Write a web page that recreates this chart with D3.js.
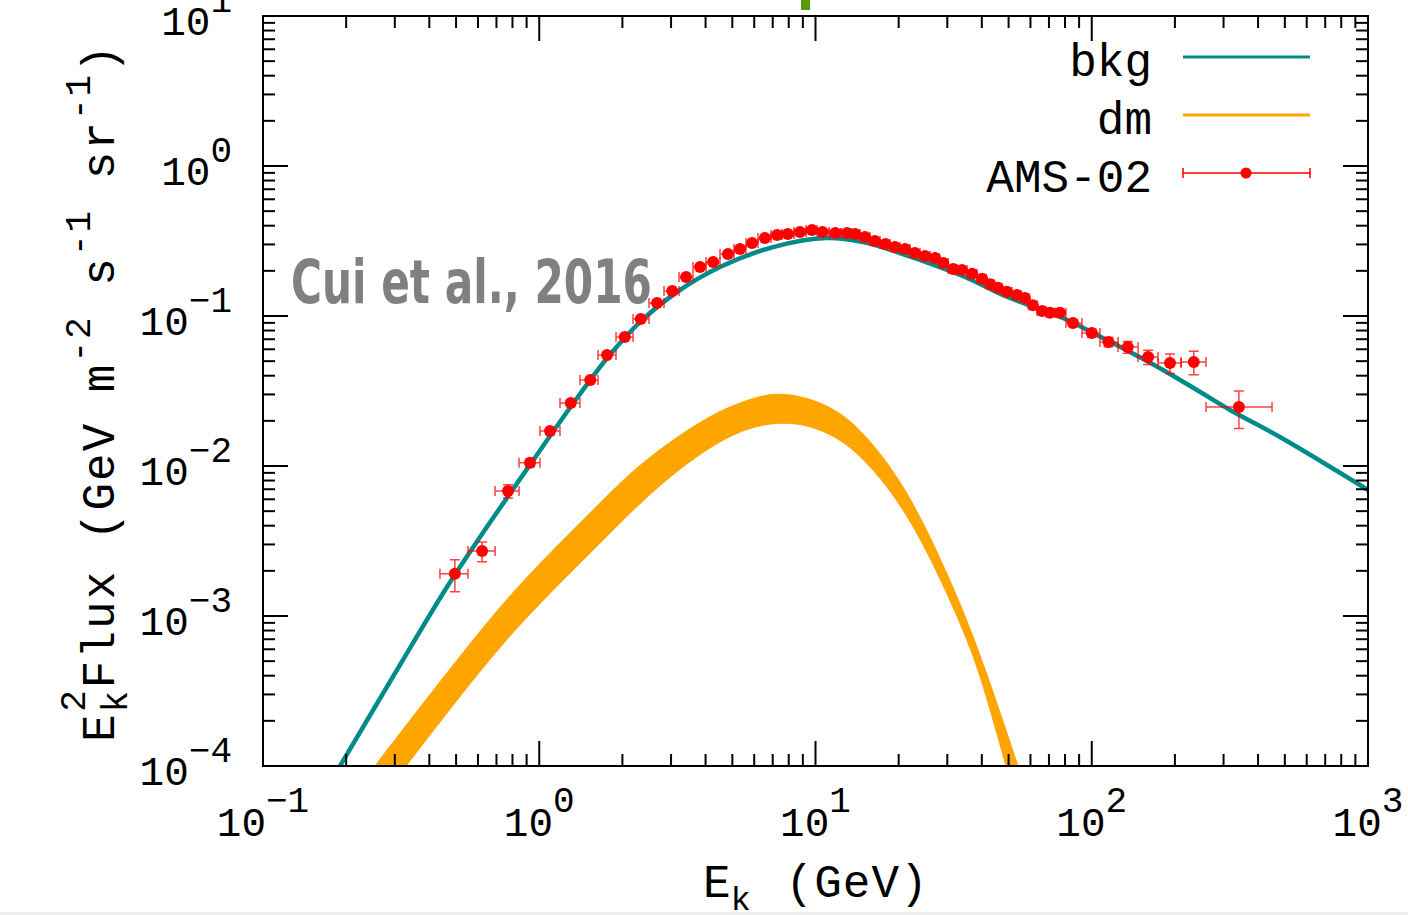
<!DOCTYPE html>
<html>
<head>
<meta charset="utf-8">
<script src="https://cdn.jsdelivr.net/npm/d3@7"></script>
<style>
  body { margin: 0; background: #fff; }
  svg { display: block; }
</style>
</head>
<body>
<div id="chart-area"></div>
<script>

// SVG size
var width = 1408,
	height = 915;

// AMS-02 positron points (E in GeV, E^2 flux)
var amsE = [0.495, 0.621, 0.771, 0.926, 1.094, 1.30, 1.53, 1.76, 2.04, 2.33,
	2.67, 3.03, 3.40, 3.82, 4.26, 4.82, 5.33, 5.89, 6.56, 7.26,
	7.94, 8.79, 9.71, 10.6, 11.8, 13.0, 13.9, 15.1, 16.4, 17.9,
	19.4, 21.1, 22.9, 24.9, 27.1, 29.0, 31.5, 33.9, 36.9, 40.1,
	42.9, 45.8, 49.3, 53.6, 57.3, 61.2, 66.1, 70.6, 76.7, 85.5,
	100, 115, 135, 160, 192, 234, 341];
var amsFlux = [1.91e-3, 2.71e-3, 6.81e-3, 1.05e-2, 1.71e-2, 2.63e-2, 3.74e-2, 5.50e-2, 7.24e-2, 9.55e-2,
	0.122, 0.147, 0.182, 0.212, 0.229, 0.259, 0.280, 0.307, 0.331, 0.347,
	0.352, 0.363, 0.374, 0.363, 0.357, 0.357, 0.352, 0.336, 0.316, 0.302,
	0.288, 0.280, 0.263, 0.251, 0.244, 0.226, 0.206, 0.203, 0.191, 0.177,
	0.163, 0.154, 0.145, 0.138, 0.132, 0.118, 0.108, 0.105, 0.105, 0.0898,
	0.0770, 0.0671, 0.0621, 0.0533, 0.0486, 0.0494, 0.0247];
// relative error in percent
var amsErrPct = [24, 15, 10, 6, 5, 4, 4, 3.5, 3.5, 3,
	3, 3, 3, 3, 3, 3, 3, 3, 3, 3,
	3, 3, 3, 3, 3, 3, 3, 3, 3, 3,
	3, 3, 3, 3, 3, 3, 3, 3, 3, 3,
	3, 3, 3.5, 3.5, 3.5, 4, 4, 4, 4, 5,
	6, 7, 9, 11, 15, 18, 28];
// energy bin edges (one more than points)
var amsEdges = [0.437, 0.552, 0.692, 0.845, 1.006, 1.189, 1.404, 1.632, 1.896, 2.185,
	2.496, 2.829, 3.205, 3.603, 4.015, 4.512, 5.070, 5.603, 6.193, 6.901,
	7.562, 8.36, 9.24, 10.13, 11.19, 12.37, 13.44, 14.49, 15.75, 17.12,
	18.61, 20.22, 21.99, 23.90, 25.97, 28.01, 30.18, 32.52, 35.35, 38.42,
	41.42, 44.29, 47.33, 51.44, 55.45, 59.28, 63.36, 68.31, 73.62, 80.67,
	92.2, 107.1, 124.5, 147.1, 173.7, 210.5, 259.2, 449.4];

// background curve
var bkgE = [0.190, 0.3056, 0.4634, 0.621, 0.926, 1.314, 1.774, 2.354, 3.152, 4.512,
	7.02, 11.0, 14.85, 20.2, 33.4, 50.6, 78.7, 104.5, 137.6, 181.1,
	240.4, 316.6, 480, 1000];
var bkgFlux = [1.0e-4, 4.37e-4, 1.56e-3, 3.52e-3, 1.02e-2, 2.55e-2, 5.33e-2, 0.0940, 0.1445, 0.212,
	0.288, 0.331, 0.311, 0.263, 0.1876, 0.1318, 0.0970, 0.0747, 0.0575, 0.0437,
	0.0321, 0.0236, 0.0156, 6.92e-3];

// dark matter band: upper and lower edges
var dmUpE = [0.2543, 0.3133, 0.5477, 0.7212, 0.9493, 1.659, 2.316, 3.818, 5.028,
	6.297, 7.437, 9.552, 12.58, 16.15, 21.44, 28.23, 37.17, 49.34, 54.08];
var dmUpFlux = [1.0e-4, 1.66e-4, 6.21e-4, 1.148e-3, 2.026e-3, 5.666e-3, 1.047e-2, 1.995e-2, 2.551e-2,
	2.929e-2, 3.07e-2, 2.84e-2, 2.26e-2, 1.42e-2, 6.92e-3, 2.47e-3, 7.70e-4, 1.66e-4, 1.0e-4];
var dmLowE = [0.3294, 0.5477, 0.7212, 0.9493, 1.659, 2.316, 3.10, 4.400, 5.792,
	7.437, 9.552, 12.58, 16.15, 21.44, 28.23, 37.17, 42.83, 48.93];
var dmLowFlux = [1.0e-4, 3.363e-4, 6.21e-4, 1.096e-3, 3.067e-3, 5.666e-3, 9.12e-3, 1.445e-2, 1.820e-2,
	1.965e-2, 1.88e-2, 1.491e-2, 9.70e-3, 4.86e-3, 1.82e-3, 5.75e-4, 2.40e-4, 1.0e-4];

// clipped marker poking out above the frame
var topMarkE = 9.2;

var xTickExp = [-1, 0, 1, 2, 3];
var yTickExp = [-4, -3, -2, -1, 0, 1];

var legendItems = ["bkg", "dm", "AMS-02"];

var colBkg = "#008b8b",
	colDm = "#ffa500",
	colData = "#ff0000";

// plot box (top/left are window globals, so other names)
var pL = 263, pR = 1368, pT = 16, pB = 766;

var svg = d3.select("#chart-area")
	.append("svg")
	.attr("width", width)
	.attr("height", height);

var x = d3.scaleLog().domain([0.1, 1000]).range([pL, pR]);
var y = d3.scaleLog().domain([1e-4, 10]).range([pB, pT]);

svg.append("defs").append("clipPath").attr("id", "plotclip")
	.append("rect")
	.attr("x", pL).attr("y", pT)
	.attr("width", pR - pL).attr("height", pB - pT);

var plot = svg.append("g").attr("clip-path", "url(#plotclip)");

var line = d3.line()
	.x(function(d) { return x(d[0]); })
	.y(function(d) { return y(d[1]); })
	.curve(d3.curveCatmullRom.alpha(0.5));

// smoother for the band edges (my readings there are a bit noisy)
var bandLine = d3.line()
	.x(function(d) { return x(d[0]); })
	.y(function(d) { return y(d[1]); })
	.curve(d3.curveBasis);

// dm band
var up = dmUpE.map(function(e, i) { return [e, dmUpFlux[i]]; });
var low = dmLowE.map(function(e, i) { return [e, dmLowFlux[i]]; }).reverse();
plot.append("path")
	.attr("d", bandLine(up) + "L" + bandLine(low).slice(1) + "Z")
	.attr("fill", colDm)
	.attr("stroke", colDm)
	.attr("stroke-width", 1);

// bkg
plot.append("path")
	.attr("d", line(bkgE.map(function(e, i) { return [e, bkgFlux[i]]; })))
	.attr("fill", "none")
	.attr("stroke", colBkg)
	.attr("stroke-width", 4.5);

// data
var pts = amsE.map(function(e, i) {
	var err = amsFlux[i] * amsErrPct[i] / 100;
	return { e: e, f: amsFlux[i], lo: amsEdges[i], hi: amsEdges[i + 1], fLo: amsFlux[i] - err, fHi: amsFlux[i] + err };
});

var cap = 5;
var eb = plot.append("g")
	.attr("stroke", colData)
	.attr("stroke-opacity", 0.75)
	.attr("stroke-width", 1.5)
	.attr("fill", "none");
pts.forEach(function(d) {
	var cx = x(d.e), cy = y(d.f);
	var x0 = x(d.lo), x1 = x(d.hi), y0 = y(d.fLo), y1 = y(d.fHi);
	eb.append("path").attr("d",
		"M" + x0 + "," + cy + "H" + x1 +
		"M" + x0 + "," + (cy - cap) + "V" + (cy + cap) +
		"M" + x1 + "," + (cy - cap) + "V" + (cy + cap) +
		"M" + cx + "," + y0 + "V" + y1 +
		"M" + (cx - cap) + "," + y0 + "H" + (cx + cap) +
		"M" + (cx - cap) + "," + y1 + "H" + (cx + cap));
});

plot.selectAll("circle.pt")
	.data(pts)
	.enter()
	.append("circle")
	.attr("class", "pt")
	.attr("cx", function(d) { return x(d.e); })
	.attr("cy", function(d) { return y(d.f); })
	.attr("r", 6)
	.attr("fill", colData);

// watermark
svg.append("text")
	.attr("x", 291).attr("y", 303)
	.attr("textLength", 361)
	.attr("lengthAdjust", "spacingAndGlyphs")
	.attr("font-family", "'DejaVu Sans Condensed', 'Liberation Sans Narrow', Roboto, sans-serif")
	.attr("font-weight", "bold")
	.attr("font-size", 60)
	.attr("fill", "#808080")
	.text("Cui et al., 2016");

// green mark above the frame
svg.append("rect")
	.attr("x", x(topMarkE) - 4.5).attr("y", 0)
	.attr("width", 9).attr("height", 10)
	.attr("fill", "#5a9a0a");

// frame and ticks
var axes = svg.append("g").attr("stroke", "#000").attr("stroke-width", 2);
axes.append("rect")
	.attr("x", pL).attr("y", pT)
	.attr("width", pR - pL).attr("height", pB - pT)
	.attr("fill", "none");

function isMajor(v) {
	var l = Math.log10(v);
	return Math.abs(l - Math.round(l)) < 1e-6;
}

x.ticks(40).forEach(function(v) {
	var px = x(v);
	if (px <= pL + 0.5 || px >= pR - 0.5) return;
	var len = isMajor(v) ? 25 : 12;
	axes.append("line").attr("x1", px).attr("x2", px).attr("y1", pB).attr("y2", pB - len);
	axes.append("line").attr("x1", px).attr("x2", px).attr("y1", pT).attr("y2", pT + len);
});
y.ticks(50).forEach(function(v) {
	var py = y(v);
	if (py <= pT + 0.5 || py >= pB - 0.5) return;
	var len = isMajor(v) ? 25 : 12;
	axes.append("line").attr("y1", py).attr("y2", py).attr("x1", pL).attr("x2", pL + len);
	axes.append("line").attr("y1", py).attr("y2", py).attr("x1", pR).attr("x2", pR - len);
});

var mono = "'Liberation Mono', 'DejaVu Sans Mono', monospace";

function expText(p) {
	return p < 0 ? "\u2212" + (-p) : String(p);
}

// x tick labels
xTickExp.forEach(function(p) {
	var t = svg.append("text")
		.attr("x", x(Math.pow(10, p))).attr("y", 836)
		.attr("text-anchor", "middle")
		.attr("font-family", mono).attr("font-size", 41);
	t.append("tspan").text("10");
	t.append("tspan").attr("dy", -24).attr("font-size", 36).text(expText(p));
});

// y tick labels
yTickExp.forEach(function(p) {
	var t = svg.append("text")
		.attr("x", 232).attr("y", y(Math.pow(10, p)) + 19)
		.attr("text-anchor", "end")
		.attr("font-family", mono).attr("font-size", 41);
	t.append("tspan").text("10");
	t.append("tspan").attr("dy", -23).attr("font-size", 36).text(expText(p));
});

// x title
var xt = svg.append("text")
	.attr("x", 703).attr("y", 897)
	.attr("font-family", mono).attr("font-size", 46);
xt.append("tspan").text("E");
xt.append("tspan").attr("dy", 13).attr("font-size", 34).text("k");
xt.append("tspan").attr("dy", -13).attr("dx", 6).attr("letter-spacing", 1).text(" (GeV)");

// y title
var yt = svg.append("text")
	.attr("transform", "translate(114,742) rotate(-90)")
	.attr("font-family", mono).attr("font-size", 46)
	.attr("letter-spacing", 2);
yt.append("tspan").text("E");
yt.append("tspan").attr("dy", 13).attr("font-size", 36).text("k");
yt.append("tspan").attr("dy", -42).attr("dx", -23).attr("font-size", 36).text("2");
yt.append("tspan").attr("dy", 29).text("Flux (GeV m");
yt.append("tspan").attr("dy", -24).attr("font-size", 36).text("-2");
yt.append("tspan").attr("dy", 24).text(" s");
yt.append("tspan").attr("dy", -24).attr("font-size", 36).text("-1");
yt.append("tspan").attr("dy", 24).text(" sr");
yt.append("tspan").attr("dy", -24).attr("font-size", 36).text("-1");
yt.append("tspan").attr("dy", 24).text(")");

// legend
var legY = [57, 115, 173];
legendItems.forEach(function(name, i) {
	svg.append("text")
		.attr("x", 1152).attr("y", legY[i] + 19)
		.attr("text-anchor", "end")
		.attr("font-family", mono).attr("font-size", 46)
		.text(name);
});
svg.append("line").attr("x1", 1183).attr("x2", 1310).attr("y1", legY[0]).attr("y2", legY[0])
	.attr("stroke", colBkg).attr("stroke-width", 3);
svg.append("line").attr("x1", 1183).attr("x2", 1310).attr("y1", legY[1]).attr("y2", legY[1])
	.attr("stroke", colDm).attr("stroke-width", 3);
var ly = legY[2];
svg.append("path")
	.attr("d", "M1183," + ly + "H1310M1183," + (ly - 5) + "V" + (ly + 5) + "M1310," + (ly - 5) + "V" + (ly + 5))
	.attr("stroke", colData).attr("stroke-width", 1.5).attr("fill", "none");
svg.append("circle").attr("cx", 1246).attr("cy", ly).attr("r", 5.5).attr("fill", colData);

// bottom strip of the screenshot
svg.append("rect").attr("x", 0).attr("y", 912).attr("width", width).attr("height", 3).attr("fill", "#eeeeee");

</script>
</body>
</html>
